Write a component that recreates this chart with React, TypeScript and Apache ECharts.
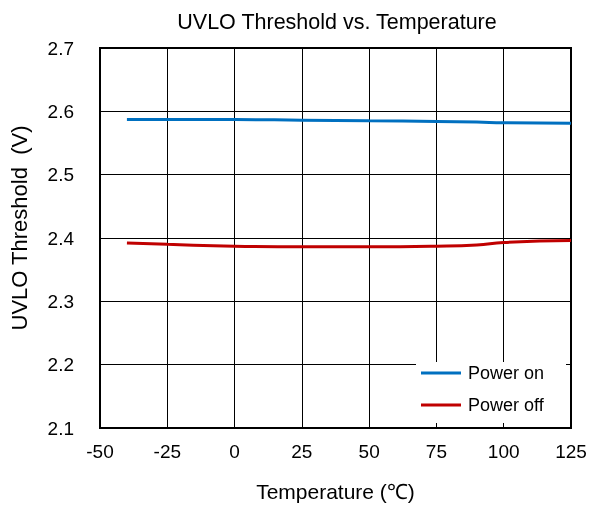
import React, { useEffect, useRef } from "react";
import * as echarts from "echarts";

const temperatures = [-40, -25, 0, 25, 50, 75, 90, 100, 125];
const powerOn = [2.587, 2.587, 2.587, 2.586, 2.585, 2.584, 2.583, 2.582, 2.581];
const powerOff = [2.392, 2.390, 2.387, 2.386, 2.386, 2.387, 2.389, 2.393, 2.396];
const seriesNames = ["Power on", "Power off"];

const FONT = "Liberation Sans, Arial, sans-serif";

export default function App() {
  const ref = useRef<HTMLDivElement>(null);
  useEffect(() => {
    if (!ref.current) return;
    const chart = echarts.init(ref.current, undefined, { renderer: "svg" });
    const toPairs = (vals: number[]) => temperatures.map((t, i) => [t, vals[i]]);
    chart.setOption({
      animation: false,
      textStyle: { fontFamily: FONT },
      title: {
        text: "UVLO Threshold vs. Temperature",
        left: 332,
        top: 6,
        textAlign: "center",
        textStyle: { fontFamily: FONT, fontSize: 21.5, fontWeight: "normal", color: "#000" },
      },
      grid: {
        left: 98,
        right: 19,
        top: 48,
        bottom: 81,
        show: true,
        borderColor: "#000",
        borderWidth: 2,
        backgroundColor: "transparent",
      },
      legend: {
        orient: "vertical",
        left: 416,
        top: 362,
        data: seriesNames,
        icon: "rect",
        backgroundColor: "#fff",
        padding: [2, 24, 13, 5],
        itemWidth: 40,
        itemHeight: 3,
        itemGap: 14,
        z: 4,
        textStyle: { fontFamily: FONT, fontSize: 18, color: "#000", padding: [0, 0, 0, 2] },
      },
      xAxis: [
        {
          type: "value",
          min: -50,
          max: 125,
          interval: 25,
          name: "Temperature (℃)",
          nameLocation: "middle",
          nameGap: 53,
          nameTextStyle: { fontFamily: FONT, fontSize: 21, color: "#000" },
          axisLine: { show: true, onZero: false, lineStyle: { color: "#000", width: 2 } },
          axisTick: { show: false },
          axisLabel: { fontFamily: FONT, fontSize: 19, color: "#000", margin: 14 },
          splitLine: { show: true, lineStyle: { color: "#000", width: 1 } },
          z: 0,
        },
        {
          type: "value",
          min: -50,
          max: 125,
          interval: 25,
          position: "bottom",
          axisLine: { show: false, onZero: false },
          axisTick: { show: true, inside: true, length: 5, lineStyle: { color: "#000", width: 1 } },
          axisLabel: { show: false },
          splitLine: { show: false },
          z: 10,
        },
      ],
      yAxis: [
        {
          type: "value",
          min: 2.1,
          max: 2.7,
          interval: 0.1,
          name: "UVLO Threshold  (V)",
          nameLocation: "middle",
          nameGap: 70,
          nameTextStyle: {
            fontFamily: FONT,
            fontSize: 22,
            color: "#000",
            padding: [0, 0, 0, 20],
          },
          axisLine: { show: true, onZero: false, lineStyle: { color: "#000", width: 2 } },
          axisTick: { show: false },
          axisLabel: {
            fontFamily: FONT,
            fontSize: 19,
            color: "#000",
            margin: 26,
            formatter: (v: number) => v.toFixed(1),
          },
          splitLine: { show: true, lineStyle: { color: "#000", width: 1 } },
          z: 0,
        },
        {
          type: "value",
          min: 2.1,
          max: 2.7,
          interval: 0.1,
          position: "right",
          axisLine: { show: false, onZero: false },
          axisTick: { show: true, inside: true, length: 5, lineStyle: { color: "#000", width: 1 } },
          axisLabel: { show: false },
          splitLine: { show: false },
          z: 10,
        },
      ],
      series: [
        {
          name: seriesNames[0],
          type: "line",
          data: toPairs(powerOn),
          symbol: "none",
          smooth: true,
          lineStyle: { color: "#0070C0", width: 3 },
          itemStyle: { color: "#0070C0" },
        },
        {
          name: seriesNames[1],
          type: "line",
          data: toPairs(powerOff),
          symbol: "none",
          smooth: true,
          lineStyle: { color: "#C00000", width: 3 },
          itemStyle: { color: "#C00000" },
        },
      ],
    });
    return () => chart.dispose();
  }, []);
  return (
    <div
      ref={ref}
      style={{ position: "fixed", left: 0, top: 0, width: 590, height: 509 }}
    />
  );
}
